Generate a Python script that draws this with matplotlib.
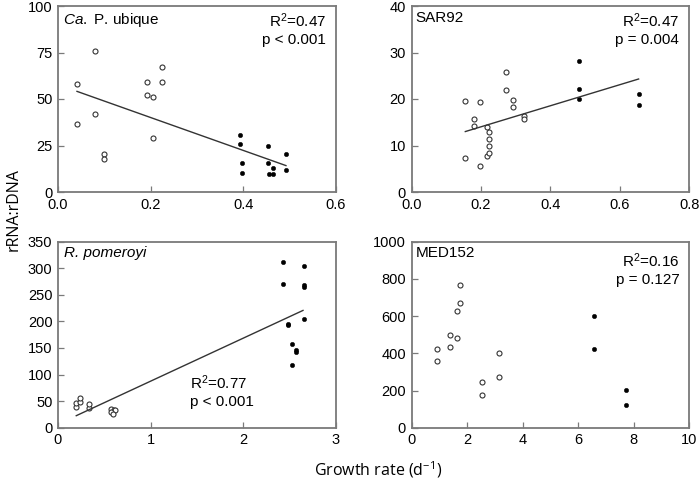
import matplotlib
matplotlib.use("Agg")
import matplotlib.pyplot as plt

plt.rcParams['font.family'] = ['Liberation Sans', 'DejaVu Sans']
plt.rcParams['mathtext.fontset'] = 'custom'
plt.rcParams['mathtext.rm'] = 'Liberation Sans'
plt.rcParams['mathtext.it'] = 'Liberation Sans:italic'
plt.rcParams['mathtext.default'] = 'regular'

# Ca. P. ubique
ub_open_x = [0.041, 0.041, 0.080, 0.080, 0.100, 0.100, 0.193, 0.193, 0.204, 0.204, 0.224, 0.224]
ub_open_y = [58.3, 36.5, 76.0, 42.0, 20.5, 17.8, 59.4, 52.0, 51.3, 28.8, 67.3, 59.4]
ub_fill_x = [0.392, 0.392, 0.398, 0.398, 0.453, 0.453, 0.456, 0.465, 0.465, 0.492, 0.492]
ub_fill_y = [30.6, 25.9, 15.5, 10.4, 24.8, 15.5, 9.7, 13.1, 9.5, 20.3, 12.0]
ub_fit_x = [0.041, 0.492]
ub_fit_y = [54.1, 14.2]

# SAR92
sar_open_x = [0.155, 0.155, 0.179, 0.179, 0.196, 0.196, 0.218, 0.218, 0.222, 0.222, 0.222,
              0.222, 0.271, 0.271, 0.291, 0.291, 0.324, 0.324]
sar_open_y = [19.5, 7.4, 15.8, 14.3, 19.3, 5.5, 13.9, 7.8, 12.8, 11.4, 9.8,
              8.4, 25.7, 21.9, 19.7, 18.2, 16.3, 15.6]
sar_fill_x = [0.481, 0.481, 0.481, 0.654, 0.654]
sar_fill_y = [28.1, 22.2, 19.9, 21.1, 18.7]
sar_fit_x = [0.155, 0.654]
sar_fit_y = [13.0, 24.3]

# R. pomeroyi
pom_open_x = [0.19, 0.19, 0.24, 0.24, 0.33, 0.33, 0.57, 0.60, 0.62, 0.57, 0.59]
pom_open_y = [39, 46, 48, 55, 38, 45, 36, 33, 34, 30, 26]
pom_fill_x = [2.43, 2.43, 2.65, 2.65, 2.65, 2.65, 2.48, 2.48, 2.52, 2.57, 2.57, 2.52]
pom_fill_y = [311, 271, 304, 268, 265, 204, 196, 193, 158, 146, 142, 118]
pom_fit_x = [0.197, 2.644]
pom_fit_y = [22.6, 220.7]

# MED152
med_open_x = [0.93, 0.93, 1.40, 1.40, 1.64, 1.64, 1.76, 1.76, 2.54, 2.54, 3.14, 3.14]
med_open_y = [422, 356, 498, 435, 629, 482, 766, 670, 248, 175, 401, 275]
med_fill_x = [6.58, 6.58, 7.73, 7.73]
med_fill_y = [600, 422, 203, 122]

frame_col = '#7a7a7a'
fig = plt.figure(figsize=(7, 4.84), dpi=100)

L1, R1 = 58 / 700, 336 / 700
L2, R2 = 411.5 / 700, 689.3 / 700
T1, B1 = 1 - 6 / 484, 1 - 192 / 484
T2, B2 = 1 - 241.7 / 484, 1 - 427.7 / 484

ax1 = fig.add_axes([L1, B1, R1 - L1, T1 - B1])
ax2 = fig.add_axes([L2, B1, R2 - L2, T1 - B1])
ax3 = fig.add_axes([L1, B2, R1 - L1, T2 - B2])
ax4 = fig.add_axes([L2, B2, R2 - L2, T2 - B2])


def style(ax, xlim, xticks, xlabels, ylim, yticks):
    ax.set_xlim(*xlim)
    ax.set_ylim(*ylim)
    ax.set_xticks(xticks)
    ax.set_xticklabels(xlabels)
    ax.set_yticks(yticks)
    for s in ax.spines.values():
        s.set_color(frame_col)
        s.set_linewidth(1.3)
    ax.tick_params(direction='in', length=4, width=0.9, color=frame_col,
                   labelsize=10.5, pad=4)


def points(ax, ox, oy, fx, fy):
    ax.plot(ox, oy, 'o', ms=3.6, mfc='white', mec='#333333', mew=0.8, clip_on=False)
    ax.plot(fx, fy, 'o', ms=3.2, mfc='black', mec='black', mew=0.3, clip_on=False)


points(ax1, ub_open_x, ub_open_y, ub_fill_x, ub_fill_y)
ax1.plot(ub_fit_x, ub_fit_y, color='#333333', lw=1.0)
style(ax1, (0, 0.6), [0, 0.2, 0.4, 0.6], ['0.0', '0.2', '0.4', '0.6'], (0, 100), [0, 25, 50, 75, 100])
ax1.text(0.017, 0.975, '$\\mathit{Ca.}$ P. ubique', transform=ax1.transAxes,
         ha='left', va='top', fontsize=11)
ax1.text(0.964, 0.97, 'R$^2$=0.47\np < 0.001', transform=ax1.transAxes,
         ha='right', va='top', fontsize=11, linespacing=1.3)

points(ax2, sar_open_x, sar_open_y, sar_fill_x, sar_fill_y)
ax2.plot(sar_fit_x, sar_fit_y, color='#333333', lw=1.0)
style(ax2, (0, 0.8), [0, 0.2, 0.4, 0.6, 0.8], ['0.0', '0.2', '0.4', '0.6', '0.8'], (0, 40), [0, 10, 20, 30, 40])
ax2.text(0.015, 0.975, 'SAR92', transform=ax2.transAxes, ha='left', va='top', fontsize=11)
ax2.text(0.964, 0.97, 'R$^2$=0.47\np = 0.004', transform=ax2.transAxes,
         ha='right', va='top', fontsize=11, linespacing=1.3)

points(ax3, pom_open_x, pom_open_y, pom_fill_x, pom_fill_y)
ax3.plot(pom_fit_x, pom_fit_y, color='#333333', lw=1.0)
style(ax3, (0, 3), [0, 1, 2, 3], ['0', '1', '2', '3'], (0, 350), [0, 50, 100, 150, 200, 250, 300, 350])
ax3.text(0.02, 0.975, 'R. pomeroyi', transform=ax3.transAxes, ha='left', va='top',
         fontsize=11, style='italic')
ax3.text(0.475, 0.1, 'R$^2$=0.77\np < 0.001', transform=ax3.transAxes,
         ha='left', va='bottom', fontsize=11, linespacing=1.3)

points(ax4, med_open_x, med_open_y, med_fill_x, med_fill_y)
style(ax4, (0, 10), [0, 2, 4, 6, 8, 10], ['0', '2', '4', '6', '8', '10'], (0, 1000), [0, 200, 400, 600, 800, 1000])
ax4.text(0.015, 0.975, 'MED152', transform=ax4.transAxes, ha='left', va='top', fontsize=11)
ax4.text(0.964, 0.95, 'R$^2$=0.16\np = 0.127', transform=ax4.transAxes,
         ha='right', va='top', fontsize=11, linespacing=1.3)

fig.text(14 / 700, 1 - 210 / 484, 'rRNA:rDNA', rotation=90, ha='center', va='center',
         fontsize=11.5, family=['Open Sans', 'DejaVu Sans'])
fig.text(378 / 700, 1 - 470 / 484, 'Growth rate (d$^{-1}$)', ha='center', va='center',
         fontsize=11.5, family=['Open Sans', 'DejaVu Sans'])

fig.savefig('out.png', dpi=100)
